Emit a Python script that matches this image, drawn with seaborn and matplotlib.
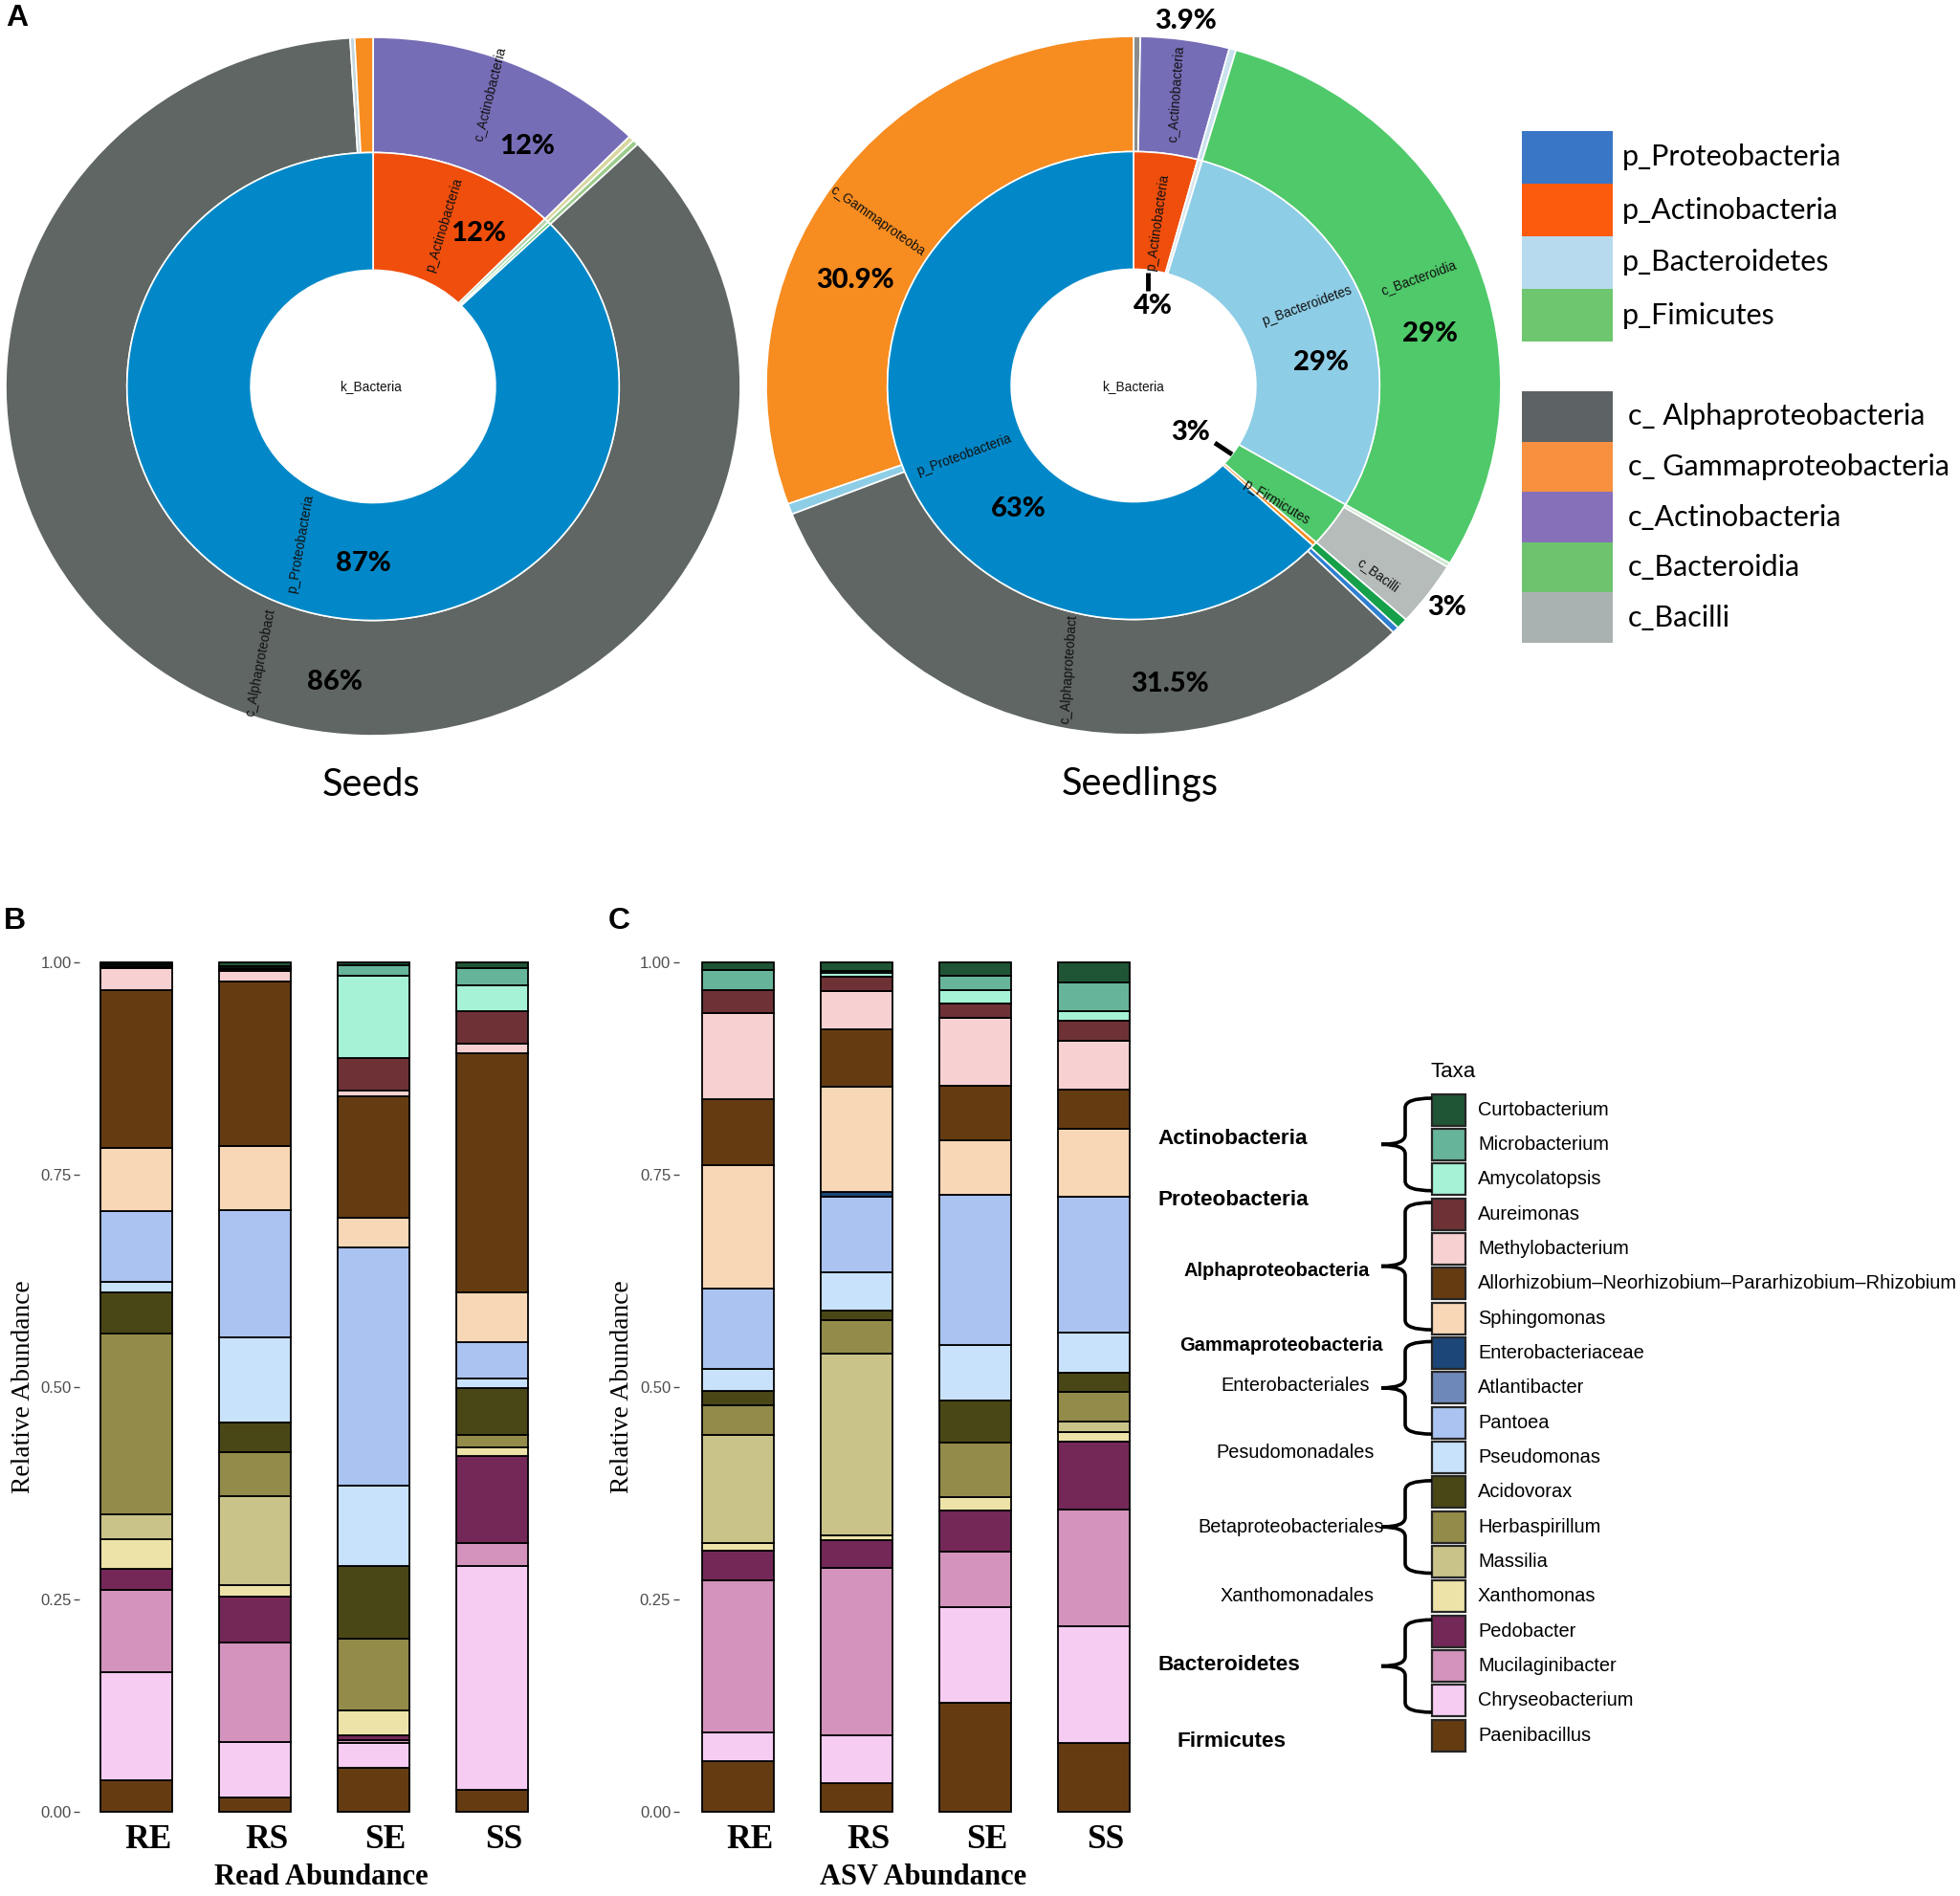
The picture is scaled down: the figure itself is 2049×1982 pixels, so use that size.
import numpy as np
import pandas as pd
import matplotlib
matplotlib.use("Agg")
import matplotlib.pyplot as plt
import seaborn as sns
from matplotlib.patches import Rectangle, PathPatch
from matplotlib.path import Path

W, H = 2049, 1982
sns.set_theme(style="white")
plt.rcParams['font.family'] = ['Liberation Sans', 'DejaVu Sans']
plt.rcParams['text.color'] = 'black'
plt.rcParams['axes.labelcolor'] = 'black'

# ---------------- DATA ----------------
# Panel A : sunburst (inner = phylum, outer = class), clockwise from 12 o'clock
seeds_inner_labels = ['p_Actinobacteria', 'p_Bacteroidetes', 'p_Firmicutes', 'p_Proteobacteria']
seeds_inner_values = [12.3, 0.3, 0.2, 87.2]
seeds_inner_colors = ['#F04E0C', '#B9D7B0', '#4EC86A', '#0288C8']
seeds_outer_labels = ['c_Actinobacteria', 'c_Bacteroidia', 'c_Bacilli', 'c_Alphaproteobacteria', 'other', 'c_Gammaproteobacteria']
seeds_outer_values = [12.3, 0.25, 0.25, 86.2, 0.2, 0.8]
seeds_outer_colors = ['#766DB7', '#D8D7A0', '#9CCB8C', '#5F6664', '#C4D7DE', '#F78C20']

seedl_inner_labels = ['p_Actinobacteria', 'other', 'p_Bacteroidetes', 'p_Firmicutes', 'other', 'p_Proteobacteria']
seedl_inner_values = [4.2, 0.3, 29.0, 3.2, 0.3, 63.0]
seedl_inner_colors = ['#F04E0C', '#D9E6EA', '#8ECDE6', '#4EC86A', '#F78C20', '#0288C8']
seedl_outer_labels = ['other', 'c_Actinobacteria', 'other', 'c_Bacteroidia', 'other', 'c_Bacilli',
                      'other', 'other', 'c_Alphaproteobacteria', 'other', 'c_Gammaproteobacteria']
seedl_outer_values = [0.3, 3.9, 0.3, 29.0, 0.2, 3.0, 0.5, 0.3, 31.5, 0.5, 30.5]
seedl_outer_colors = ['#8C8C8C', '#766DB7', '#C9E2EE', '#4FC96A', '#CFE8D0', '#B5BCBA',
                      '#16A04A', '#2F7FD0', '#5F6664', '#8ECDE6', '#F78C20']

pie_legend_p = ['p_Proteobacteria', 'p_Actinobacteria', 'p_Bacteroidetes', 'p_Fimicutes']
pie_legend_p_colors = ['#3A76C6', '#FC5A0C', '#B8DAEE', '#6EC66E']
pie_legend_c = ['c_ Alphaproteobacteria', 'c_ Gammaproteobacteria', 'c_Actinobacteria', 'c_Bacteroidia', 'c_Bacilli']
pie_legend_c_colors = ['#5D6365', '#F79140', '#8770BA', '#6DC36E', '#AAB2B1']

# Panels B/C : stacked relative abundance (taxa in legend order, top -> bottom)
taxa = ['Curtobacterium', 'Microbacterium', 'Amycolatopsis', 'Aureimonas', 'Methylobacterium',
        'Allorhizobium\u2013Neorhizobium\u2013Pararhizobium\u2013Rhizobium', 'Sphingomonas',
        'Enterobacteriaceae', 'Atlantibacter', 'Pantoea', 'Pseudomonas', 'Acidovorax',
        'Herbaspirillum', 'Massilia', 'Xanthomonas', 'Pedobacter', 'Mucilaginibacter',
        'Chryseobacterium', 'Paenibacillus']
taxa_colors = ['#1F5535', '#66B59A', '#A6F2D6', '#6E3236', '#F7D1D1', '#653C12', '#F8D7B6',
               '#1B4677', '#6D88B9', '#ABC3F1', '#C9E2FB', '#4A4716', '#938B49', '#CAC389',
               '#EDE3A8', '#732858', '#D393BC', '#F6CCF3', '#653C12']
samples = ['RE', 'RS', 'SE', 'SS']

read_RE = [0.002, 0.003, 0.001, 0.001, 0.026, 0.185, 0.075, 0.0, 0.0, 0.083, 0.013, 0.048, 0.213, 0.029, 0.035, 0.025, 0.096, 0.128, 0.037]
read_RS = [0.005, 0.002, 0.001, 0.002, 0.013, 0.193, 0.076, 0.0, 0.0, 0.150, 0.100, 0.034, 0.052, 0.105, 0.014, 0.054, 0.117, 0.065, 0.017]
read_SE = [0.004, 0.012, 0.097, 0.038, 0.007, 0.143, 0.035, 0.0, 0.0, 0.280, 0.094, 0.086, 0.084, 0.0, 0.030, 0.005, 0.004, 0.029, 0.052]
read_SS = [0.007, 0.020, 0.030, 0.039, 0.011, 0.282, 0.058, 0.0, 0.0, 0.043, 0.011, 0.055, 0.015, 0.0, 0.010, 0.103, 0.027, 0.263, 0.026]

asv_RE = [0.009, 0.024, 0.0, 0.027, 0.101, 0.078, 0.145, 0.0, 0.0, 0.095, 0.025, 0.017, 0.035, 0.128, 0.009, 0.034, 0.179, 0.034, 0.060]
asv_RS = [0.010, 0.003, 0.004, 0.017, 0.045, 0.068, 0.123, 0.006, 0.0, 0.089, 0.045, 0.011, 0.040, 0.214, 0.005, 0.033, 0.197, 0.056, 0.034]
asv_SE = [0.016, 0.017, 0.016, 0.016, 0.080, 0.065, 0.064, 0.0, 0.0, 0.177, 0.065, 0.049, 0.065, 0.0, 0.015, 0.049, 0.065, 0.113, 0.128]
asv_SS = [0.024, 0.033, 0.012, 0.023, 0.058, 0.046, 0.080, 0.0, 0.0, 0.160, 0.047, 0.023, 0.035, 0.012, 0.011, 0.080, 0.137, 0.138, 0.081]

yticks = [0.0, 0.25, 0.5, 0.75, 1.0]
ytick_labels = ['0.00', '0.25', '0.50', '0.75', '1.00']

group_labels = [  # text, x, y, ha, weight, size
    ('Actinobacteria', 1210, 1190, 'left', 'bold', 16.2),
    ('Proteobacteria', 1210, 1255, 'left', 'bold', 16.2),
    ('Alphaproteobacteria', 1335, 1329, 'center', 'bold', 14.4),
    ('Gammaproteobacteria', 1339, 1406, 'center', 'bold', 14.4),
    ('Enterobacteriales', 1354, 1448, 'center', 'normal', 14.3),
    ('Pesudomonadales', 1354, 1519, 'center', 'normal', 14.3),
    ('Betaproteobacteriales', 1350, 1596, 'center', 'normal', 14.3),
    ('Xanthomonadales', 1356, 1668, 'center', 'normal', 14.3),
    ('Bacteroidetes', 1210, 1740, 'left', 'bold', 16.2),
    ('Firmicutes', 1231, 1821, 'left', 'bold', 16.2),
]
brace_groups = [(0, 2), (3, 6), (7, 9), (11, 13), (15, 17)]

# ---------------- FIGURE ----------------
fig = plt.figure(figsize=(W / 100, H / 100), dpi=100)
fig.patch.set_facecolor('white')


def px_axes(x0, y0, x1, y1):
    return fig.add_axes([x0 / W, 1 - y1 / H, (x1 - x0) / W, (y1 - y0) / H])


def sunburst(ax, inner_v, inner_c, outer_v, outer_c):
    wp = dict(edgecolor='white', linewidth=1.2)
    ax.pie(outer_v, colors=outer_c, radius=1.0, startangle=90, counterclock=False,
           wedgeprops=dict(width=0.33, **wp))
    ax.pie(inner_v, colors=inner_c, radius=0.67, startangle=90, counterclock=False,
           wedgeprops=dict(width=0.337, **wp))
    ax.set_aspect('auto')
    ax.set_xlim(-1.0, 1.0)
    ax.set_ylim(-1.0, 1.0)
    ax.axis('off')


axA1 = px_axes(6, 39, 774, 769)
sunburst(axA1, seeds_inner_values, seeds_inner_colors, seeds_outer_values, seeds_outer_colors)
axA2 = px_axes(801, 38, 1569, 768)
sunburst(axA2, seedl_inner_values, seedl_inner_colors, seedl_outer_values, seedl_outer_colors)


def stacked(ax, vals, xlim, xlabel):
    rows = []
    for s, v in zip(samples, vals):
        for t, val in zip(taxa, v):
            rows.append(dict(sample=s, taxon=t, value=val))
    df = pd.DataFrame(rows)
    df['sample'] = pd.Categorical(df['sample'], categories=samples, ordered=True)
    sns.histplot(data=df, x='sample', weights='value', hue='taxon', hue_order=taxa,
                 palette=dict(zip(taxa, taxa_colors)), multiple='stack', discrete=True,
                 shrink=0.6, alpha=1, edgecolor='black', linewidth=1.3, legend=False, ax=ax)
    ax.set_xlim(*xlim)
    ax.set_ylim(-0.01, 1.01)
    for sp in ax.spines.values():
        sp.set_visible(False)
    ax.set_yticks(yticks)
    ax.set_yticklabels(ytick_labels, fontsize=12, color='#4D4D4D', family='Liberation Sans')
    # category labels sit slightly right of the bar centres in the original
    ax.set_xticks([i + 0.1 for i in range(len(samples))])
    ax.set_xticklabels(samples, fontsize=25.5, fontweight='bold', family='Liberation Serif', color='black')
    ax.tick_params(axis='y', length=4, width=1, color='#4D4D4D', pad=2, left=True)
    ax.tick_params(axis='x', length=0, pad=3)
    ax.set_ylabel('Relative Abundance', fontsize=19.8, family='Liberation Serif', color='black')
    ax.yaxis.set_label_coords(-0.093, 0.5)
    ax.set_xlabel(xlabel, fontsize=22, fontweight='bold', family='Liberation Serif', color='black')
    ax.xaxis.set_label_coords(0.515, -0.05)
    ax.grid(False)
    ax.set_facecolor('none')


axB = px_axes(83, 997, 574, 1903)
stacked(axB, [read_RE, read_RS, read_SE, read_SS], (-0.48, 3.48), 'Read Abundance')
axC = px_axes(709.5, 997, 1205.5, 1903)
stacked(axC, [asv_RE, asv_RS, asv_SE, asv_SS], (-0.5, 3.5), 'ASV Abundance')

# ---------------- OVERLAY (pixel coordinates) ----------------
ov = fig.add_axes([0, 0, 1, 1], zorder=10)
ov.set_xlim(0, W)
ov.set_ylim(H, 0)
ov.axis('off')
ov.patch.set_alpha(0)

for letter, x, y in [('A', 6, 4), ('B', 4, 948), ('C', 636, 948)]:
    ov.text(x, y, letter, fontsize=23, fontweight='bold', ha='left', va='top', family='Liberation Sans')

pie_font = ['Lato', 'DejaVu Sans']
ov.text(388, 820, 'Seeds', fontsize=28.5, ha='center', va='center', family=pie_font)
ov.text(1192, 820, 'Seedlings', fontsize=28.5, ha='center', va='center', family=pie_font)

pct = [(551, 153, '12%'), (500, 244, '12%'), (380, 589, '87%'), (350, 713, '86%'),
       (1240, 22, '3.9%'), (894, 293, '30.9%'), (1205, 320, '4%'), (1381, 379, '29%'),
       (1495, 349, '29%'), (1245, 452, '3%'), (1065, 532, '63%'), (1223, 715, '31.5%'),
       (1513, 635, '3%')]
for x, y, t in pct:
    ov.text(x, y, t, fontsize=21, fontweight='black', ha='center', va='center',
            family=pie_font, color='black')

small = [(512, 98, 'c_Actinobacteria', 76), (464, 235, 'p_Actinobacteria', 73),
         (388, 404, 'k_Bacteria', 0), (314, 568, 'p_Proteobacteria', 80),
         (272, 693, 'c_Alphaproteobact', 79),
         (1229, 98, 'c_Actinobacteria', 86), (1210, 232, 'p_Actinobacteria', 82),
         (917, 231, 'c_Gammaproteoba', -35), (1366, 320, 'p_Bacteroidetes', 20),
         (1483, 290, 'c_Bacteroidia', 20), (1185, 404, 'k_Bacteria', 0),
         (1008, 476, 'p_Proteobacteria', 20), (1334, 525, 'p_Firmicutes', -31),
         (1441, 601, 'c_Bacilli', -36), (1117, 699, 'c_Alphaproteobact', 86)]
for x, y, t, r in small:
    ov.text(x, y, t, fontsize=9.8, ha='center', va='center', rotation=r,
            rotation_mode='anchor', family='Liberation Sans', color='#111111')

ov.plot([1200, 1200], [285, 304], color='black', lw=3.5, solid_capstyle='butt')
ov.plot([1270, 1288], [463, 475], color='black', lw=3.5, solid_capstyle='butt')

# pie legend
for i, (lab, col) in enumerate(zip(pie_legend_p, pie_legend_p_colors)):
    y0 = 137 + i * 55
    ov.add_patch(Rectangle((1591, y0), 95, 55, facecolor=col, edgecolor='none'))
    ov.text(1696, y0 + 27.5, lab, fontsize=22, ha='left', va='center', family=pie_font)
for i, (lab, col) in enumerate(zip(pie_legend_c, pie_legend_c_colors)):
    y0 = 409 + i * 52.6
    ov.add_patch(Rectangle((1591, y0), 95, 52.6, facecolor=col, edgecolor='none'))
    ov.text(1702, y0 + 26.3, lab, fontsize=22, ha='left', va='center', family=pie_font)

# bar legend
pitch = 36.35
ov.text(1496, 1120, 'Taxa', fontsize=16, ha='left', va='center', family='Liberation Sans')
for i, (t, c) in enumerate(zip(taxa, taxa_colors)):
    yc = 1160 + pitch * i
    ov.add_patch(Rectangle((1497, yc - 16.5), 35, 33, facecolor=c, edgecolor='#262626', linewidth=1.6))
    ov.text(1545, yc, t, fontsize=14.4, ha='left', va='center', family='Liberation Sans')

for t, x, y, ha, wgt, sz in group_labels:
    ov.text(x, y, t, fontsize=sz, fontweight=wgt, ha=ha, va='center', family='Liberation Sans')


def brace(a, b):
    ytop = 1160 + pitch * a - 0.33 * pitch
    ybot = 1160 + pitch * b + 0.33 * pitch
    ymid = (ytop + ybot) / 2
    xb, xl, xt, r = 1497, 1469, 1444, 10
    verts = [(xb, ytop), (xl, ytop), (xl, ytop + r), (xl, ymid - r), (xl, ymid), (xt, ymid),
             (xl, ymid), (xl, ymid + r), (xl, ybot - r), (xl, ybot), (xb, ybot)]
    codes = [Path.MOVETO, Path.CURVE3, Path.CURVE3, Path.LINETO, Path.CURVE3, Path.CURVE3,
             Path.CURVE3, Path.CURVE3, Path.LINETO, Path.CURVE3, Path.CURVE3]
    ov.add_patch(PathPatch(Path(verts, codes), facecolor='none', edgecolor='black', lw=2.6))


for a, b in brace_groups:
    brace(a, b)

fig.savefig('out.png', dpi=100, facecolor='white')
